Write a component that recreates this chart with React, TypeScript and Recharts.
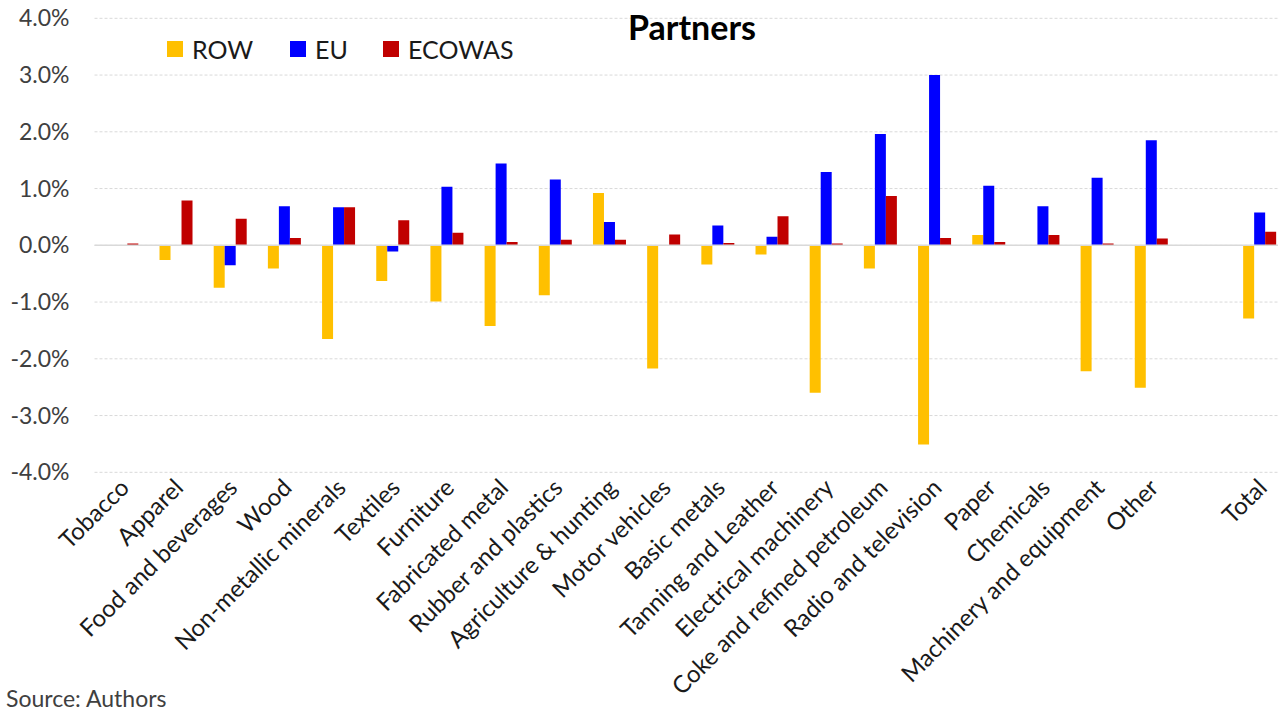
import React from 'react'
import {
  BarChart,
  Bar,
  XAxis,
  YAxis,
  CartesianGrid,
  ReferenceLine,
} from 'recharts'

// sectors, with one empty slot before Total
const categories = [
  'Tobacco', 'Apparel', 'Food and beverages', 'Wood', 'Non-metallic minerals',
  'Textiles', 'Furniture', 'Fabricated metal', 'Rubber and plastics',
  'Agriculture & hunting', 'Motor vehicles', 'Basic metals', 'Tanning and Leather',
  'Electrical machinery', 'Coke and refined petroleum', 'Radio and television',
  'Paper', 'Chemicals', 'Machinery and equipment', 'Other', ' ', 'Total',
]

// values in percent
const rowValues = [
  0, -0.26, -0.75, -0.41, -1.65, -0.63, -0.99, -1.42, -0.88, 0.92, -2.17,
  -0.34, -0.16, -2.6, -0.41, -3.51, 0.18, 0, -2.22, -2.51, null, -1.29,
]
const euValues = [
  0, 0, -0.35, 0.69, 0.67, -0.11, 1.03, 1.44, 1.16, 0.41, 0,
  0.35, 0.15, 1.29, 1.96, 3.0, 1.05, 0.69, 1.19, 1.85, null, 0.58,
]
const ecowasValues = [
  0.03, 0.79, 0.47, 0.13, 0.67, 0.44, 0.22, 0.06, 0.1, 0.1, 0.19,
  0.04, 0.51, 0.03, 0.87, 0.13, 0.06, 0.18, 0.03, 0.12, null, 0.24,
]

const yTicks = [-4, -3, -2, -1, 0, 1, 2, 3, 4]

const series = [
  { key: 'ROW', color: '#FFC000' },
  { key: 'EU', color: '#0000FF' },
  { key: 'ECOWAS', color: '#C00000' },
]

const data = categories.map((name, i) => ({
  name,
  ROW: rowValues[i],
  EU: euValues[i],
  ECOWAS: ecowasValues[i],
}))

const FONT = 'Lato, "Open Sans", sans-serif'

const RotatedTick = (props: any) => {
  const { x, y, payload } = props
  return (
    <g transform={`translate(${x + 9},${y + 17})`}>
      <text
        textAnchor="end"
        transform="rotate(-45)"
        fontFamily={FONT}
        fontSize={24}
        fill="#1a1a1a"
      >
        {payload.value}
      </text>
    </g>
  )
}

const LegendBox = () => {
  const pos = [167, 290, 383]
  return (
    <div style={{ position: 'absolute', top: 0, left: 0 }}>
      {series.map((s, i) => (
        <div
          key={s.key}
          style={{
            position: 'absolute',
            left: pos[i],
            top: 34,
            display: 'flex',
            alignItems: 'center',
            whiteSpace: 'nowrap',
            fontFamily: FONT,
            fontSize: 25,
            color: '#1a1a1a',
          }}
        >
          <span
            style={{
              display: 'inline-block',
              width: 16,
              height: 16,
              background: s.color,
              marginRight: 9,
            }}
          />
          {s.key}
        </div>
      ))}
    </div>
  )
}

export default function App() {
  return (
    <div
      style={{
        position: 'absolute',
        top: 0,
        left: 0,
        width: 1278,
        height: 722,
        overflow: 'hidden',
        background: '#fff',
      }}
    >
      <BarChart
        width={1300}
        height={722}
        data={data}
        margin={{ top: 18.3, right: 13.5, left: 0, bottom: 0 }}
        barCategoryGap="20%"
        barGap={0}
      >
        <CartesianGrid
          vertical={false}
          stroke="#d9d9d9"
          strokeDasharray="3 2"
        />
        <XAxis
          dataKey="name"
          interval={0}
          tickLine={false}
          axisLine={false}
          tickSize={0}
          tickMargin={0}
          height={249.7}
          tick={<RotatedTick />}
        />
        <YAxis
          width={94.5}
          domain={[-4, 4]}
          ticks={yTicks}
          allowDataOverflow
          tickLine={false}
          axisLine={false}
          tickSize={0}
          tickMargin={25}
          tickFormatter={(v: number) => `${v.toFixed(1)}%`}
          tick={{ fontFamily: FONT, fontSize: 23, fill: '#404040' }}
        />
        <ReferenceLine y={0} stroke="#d9d9d9" strokeWidth={1.5} />
        {series.map((s) => (
          <Bar key={s.key} dataKey={s.key} fill={s.color} isAnimationActive={false} />
        ))}
      </BarChart>
      <LegendBox />
      <div
        style={{
          position: 'absolute',
          left: 628,
          top: 6,
          fontFamily: FONT,
          fontWeight: 700,
          fontSize: 34,
          color: '#000',
        }}
      >
        Partners
      </div>
      <div
        style={{
          position: 'absolute',
          left: 6,
          top: 684,
          fontFamily: FONT,
          fontSize: 23,
          color: '#404040',
        }}
      >
        Source: Authors
      </div>
    </div>
  )
}
